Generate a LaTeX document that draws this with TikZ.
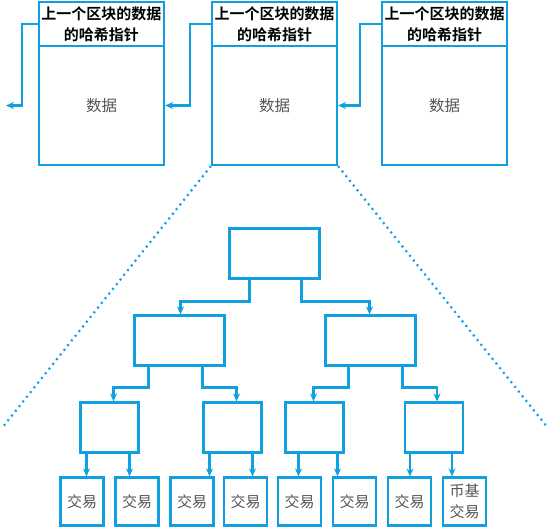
\documentclass[tikz,border=0pt]{standalone}
\usepackage{fontspec}
\newfontfamily\cjk{Noto Sans CJK SC}[BoldFont={Noto Sans CJK SC Bold}]
\usetikzlibrary{positioning}
\usetikzlibrary{arrows.meta}
\definecolor{chainblue}{RGB}{16,160,224}
\definecolor{textgray}{RGB}{85,85,85}

\tikzset{
  box/.style={draw=chainblue, line width=2.2pt, inner sep=0pt},
  hdr/.style={box, minimum width=125, minimum height=44, align=center,
    font=\cjk\bfseries\fontsize{15}{21}\selectfont},
  body/.style={box, minimum width=125, minimum height=119, text=textgray,
    font=\cjk\fontsize{15.5}{18}\selectfont},
  hash/.style={box, minimum width=90, minimum height=50},
  half/.style={box, minimum width=58, minimum height=50},
  leaf/.style={box, minimum width=43, minimum height=48, align=center, text=textgray,
    font=\cjk\fontsize{15}{21}\selectfont},
  link/.style={draw=chainblue, line width=2.2pt, ->, >={Stealth[length=8pt,width=7pt]}},
  zoomline/.style={draw=chainblue, line width=2.2pt, dash pattern=on 2pt off 4pt}
}

\begin{document}
\begin{tikzpicture}[x=1pt, y=-1pt]
  \useasboundingbox (0,0) rectangle (550,529);

  % Blocks
  \node[hdr]  (h1) at (101.5,24)   {上一个区块的数据\\的哈希指针};
  \node[body] (b1) at (101.5,105.5) {数据};
  \node[hdr]  (h2) at (274.5,24)   {上一个区块的数据\\的哈希指针};
  \node[body] (b2) at (274.5,105.5) {数据};
  \node[hdr]  (h3) at (444.5,24)   {上一个区块的数据\\的哈希指针};
  \node[body] (b3) at (444.5,105.5) {数据};

  % Hash pointers
  \coordinate (prev) at (6,105.5);
  \draw[link] (h1.west) -- ++(-16,0) |- (prev);
  \draw[link] (h2.west) -- ++(-21,0) |- (b1.east);
  \draw[link] (h3.west) -- ++(-21,0) |- (b2.east);

  % Zoom into block 2
  \coordinate (zl) at (2,428);
  \coordinate (zr) at (548,428);
  \draw[zoomline] (b2.south west) -- (zl);
  \draw[zoomline] (b2.south east) -- (zr);

  % Merkle tree
  \node[hash] (root) at (274.5,253.5) {};
  \node[hash] (n1) at (179.5,340.5) {};
  \node[hash] (n2) at (370.5,340.5) {};
  \node[half] (m1) at (109.5,427.5) {};
  \node[half] (m2) at (232.5,427.5) {};
  \node[half] (m3) at (314.5,427.5) {};
  \node[half] (m4) at (434,427.5) {};

  % Transactions
  \node[leaf] (f1) at (82,501.5)    {交易};
  \node[leaf] (f2) at (137,501.5)   {交易};
  \node[leaf] (f3) at (192,501.5)   {交易};
  \node[leaf] (f4) at (245.5,501.5) {交易};
  \node[leaf] (f5) at (299.5,501.5) {交易};
  \node[leaf] (f6) at (354.5,501.5) {交易};
  \node[leaf] (f7) at (409.5,501.5) {交易};
  \node[leaf] (f8) at (464.5,501.5) {币基\\交易};

  % Root to second level
  \draw[link] ([xshift=-25pt]root.south) -- ++(0,22) -| ([xshift=1pt]n1.north);
  \draw[link] ([xshift=27pt]root.south) -- ++(0,22) -| ([xshift=-1pt]n2.north);

  % Second level to third level
  \draw[link] ([xshift=-31pt]n1.south) -- ++(0,21) -| ([xshift=4pt]m1.north);
  \draw[link] ([xshift=23pt]n1.south) -- ++(0,21) -| ([xshift=4pt]m2.north);
  \draw[link] ([xshift=-22pt]n2.south) -- ++(0,21) -| ([xshift=-1pt]m3.north);
  \draw[link] ([xshift=32pt]n2.south) -- ++(0,21) -| ([xshift=3pt]m4.north);

  % Third level to transactions
  \draw[link] ([xshift=-23pt]m1.south) -- ([xshift=-23pt]m1.south |- f1.north);
  \draw[link] ([xshift=20pt]m1.south) -- ([xshift=20pt]m1.south |- f2.north);
  \draw[link] ([xshift=-23pt]m2.south) -- ([xshift=-23pt]m2.south |- f3.north);
  \draw[link] ([xshift=20pt]m2.south) -- ([xshift=20pt]m2.south |- f4.north);
  \draw[link] ([xshift=-16pt]m3.south) -- ([xshift=-16pt]m3.south |- f5.north);
  \draw[link] ([xshift=23pt]m3.south) -- ([xshift=23pt]m3.south |- f6.north);
  \draw[link] ([xshift=-24pt]m4.south) -- ([xshift=-24pt]m4.south |- f7.north);
  \draw[link] ([xshift=18pt]m4.south) -- ([xshift=18pt]m4.south |- f8.north);
\end{tikzpicture}
\end{document}
